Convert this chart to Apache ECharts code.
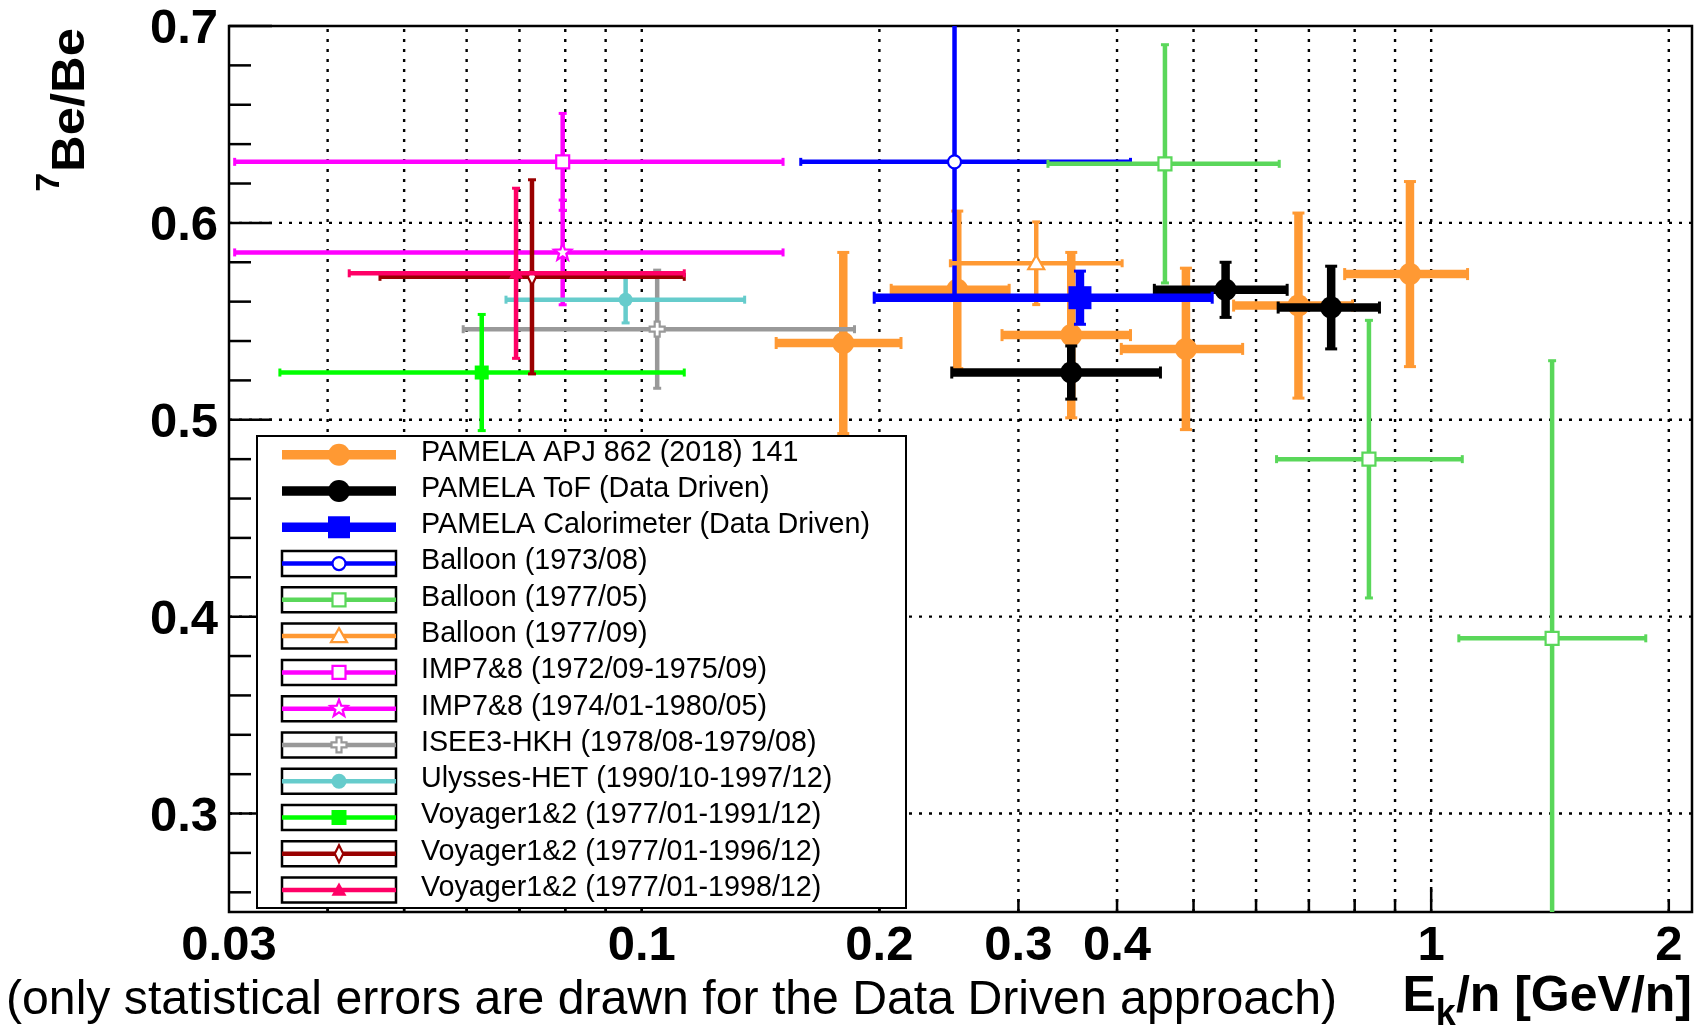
<!DOCTYPE html>
<html>
<head>
<meta charset="utf-8">
<title>7Be/Be</title>
<script src="https://cdn.jsdelivr.net/npm/echarts@6/dist/echarts.min.js"></script>
<style>
html, body { margin: 0; padding: 0; background: #fff; }
#main { width: 1703px; height: 1028px; }
</style>
</head>
<body>
<div id="main"></div>
<script>
// axis ticks and labels
var xTickLabels = [0.03, 0.1, 0.2, 0.3, 0.4, 1, 2];
var xGridValues = [0.04, 0.05, 0.06, 0.07, 0.08, 0.09, 0.1, 0.2, 0.3, 0.4, 0.5, 0.6, 0.7, 0.8, 0.9, 1, 2];
var xLongTicks = [0.1, 1];
var yTickLabels = [0.3, 0.4, 0.5, 0.6, 0.7];
var yMinorTicks = [0.26, 0.28, 0.32, 0.34, 0.36, 0.38, 0.42, 0.44, 0.46, 0.48,
                   0.52, 0.54, 0.56, 0.58, 0.62, 0.64, 0.66, 0.68];

// E = Ek/n (GeV/n), lo/hi = bin edges, r = 7Be/Be, err = error on r
var apjE   = [0.180, 0.251, 0.350, 0.489, 0.679, 0.940];
var apjLo  = [0.148, 0.207, 0.286, 0.405, 0.562, 0.777];
var apjHi  = [0.213, 0.292, 0.416, 0.577, 0.795, 1.112];
var apjR   = [0.539, 0.566, 0.543, 0.536, 0.558, 0.574];
var apjErr = [0.046, 0.040, 0.042, 0.041, 0.047, 0.047];

var tofE   = [0.350, 0.549, 0.747];
var tofLo  = [0.247, 0.446, 0.640];
var tofHi  = [0.454, 0.657, 0.860];
var tofR   = [0.524, 0.566, 0.557];
var tofErr = [0.0135, 0.014, 0.021];

var caloE   = [0.359];
var caloLo  = [0.197];
var caloHi  = [0.528];
var caloR   = [0.562];
var caloErr = [0.0135];

var b73E = [0.249], b73Lo = [0.159], b73Hi = [0.416], b73R = [0.631], b73Err = [0.070];

var b7705E   = [0.460, 0.834, 1.423];
var b7705Lo  = [0.327, 0.637, 1.084];
var b7705Hi  = [0.642, 1.095, 1.870];
var b7705R   = [0.630, 0.480, 0.389];
var b7705Err = [0.0605, 0.0705, 0.141];

var b7709E = [0.316], b7709Lo = [0.246], b7709Hi = [0.406], b7709R = [0.5795], b7709Err = [0.021];

var imp1E = [0.0794], imp1Lo = [0.0305], imp1Hi = [0.151], imp1R = [0.631], imp1Err = [0.0246];
var imp2E = [0.0794], imp2Lo = [0.0305], imp2Hi = [0.151], imp2R = [0.585], imp2Err = [0.0266];

var iseeE = [0.1046], iseeLo = [0.0594], iseeHi = [0.186], iseeR = [0.546], iseeErr = [0.030];
var ulyE  = [0.0954], ulyLo  = [0.0673], ulyHi  = [0.135], ulyR  = [0.561], ulyErr  = [0.0118];

var v91E = [0.0627], v91Lo = [0.0348], v91Hi = [0.1132], v91R = [0.524],  v91Err = [0.0295];
var v96E = [0.0726], v96Lo = [0.0466], v96Hi = [0.1132], v96R = [0.5726], v96Err = [0.0493];
var v98E = [0.0693], v98Lo = [0.0426], v98Hi = [0.1132], v98R = [0.5744], v98Err = [0.0432];

var X_MIN = 0.03, X_MAX = 2.14, Y_MIN = 0.25, Y_MAX = 0.7;
var FONT = '"Liberation Sans", Arial, Helvetica, sans-serif';

// styles of each data set
var apj   = {name: 'PAMELA APJ 862 (2018) 141', color: '#ff9933', thick: true, mark: 'dot', ms: 22, E: apjE, lo: apjLo, hi: apjHi, R: apjR, err: apjErr};
var tof   = {name: 'PAMELA ToF (Data Driven)', color: '#000000', thick: true, mark: 'dot', ms: 22, E: tofE, lo: tofLo, hi: tofHi, R: tofR, err: tofErr};
var calo  = {name: 'PAMELA Calorimeter (Data Driven)', color: '#0000ff', thick: true, mark: 'square', ms: 23, E: caloE, lo: caloLo, hi: caloHi, R: caloR, err: caloErr};
var b73   = {name: 'Balloon (1973/08)', color: '#0000ff', mark: 'ring', ms: 15, E: b73E, lo: b73Lo, hi: b73Hi, R: b73R, err: b73Err};
var b7705 = {name: 'Balloon (1977/05)', color: '#5ad75a', mark: 'openSquare', ms: 15, E: b7705E, lo: b7705Lo, hi: b7705Hi, R: b7705R, err: b7705Err};
var b7709 = {name: 'Balloon (1977/09)', color: '#ff9933', mark: 'openTriangle', ms: 16, E: b7709E, lo: b7709Lo, hi: b7709Hi, R: b7709R, err: b7709Err};
var imp1  = {name: 'IMP7&8 (1972/09-1975/09)', color: '#ff00ff', mark: 'openSquare', ms: 15, E: imp1E, lo: imp1Lo, hi: imp1Hi, R: imp1R, err: imp1Err};
var imp2  = {name: 'IMP7&8 (1974/01-1980/05)', color: '#ff00ff', mark: 'openStar', ms: 18, E: imp2E, lo: imp2Lo, hi: imp2Hi, R: imp2R, err: imp2Err};
var isee  = {name: 'ISEE3-HKH (1978/08-1979/08)', color: '#999999', mark: 'openCross', ms: 15, E: iseeE, lo: iseeLo, hi: iseeHi, R: iseeR, err: iseeErr};
var uly   = {name: 'Ulysses-HET (1990/10-1997/12)', color: '#66cccc', mark: 'dot', ms: 14, E: ulyE, lo: ulyLo, hi: ulyHi, R: ulyR, err: ulyErr};
var v91   = {name: 'Voyager1&2 (1977/01-1991/12)', color: '#00ff00', mark: 'square', ms: 14, E: v91E, lo: v91Lo, hi: v91Hi, R: v91R, err: v91Err};
var v96   = {name: 'Voyager1&2 (1977/01-1996/12)', color: '#990000', mark: 'openDiamond', ms: 17, E: v96E, lo: v96Lo, hi: v96Hi, R: v96R, err: v96Err};
var v98   = {name: 'Voyager1&2 (1977/01-1998/12)', color: '#ff0066', mark: 'triangle', ms: 14, E: v98E, lo: v98Lo, hi: v98Hi, R: v98R, err: v98Err};

var drawOrder   = [apj, b73, b7705, b7709, imp1, imp2, isee, uly, v91, v96, v98, tof, calo];
var legendOrder = [apj, tof, calo, b73, b7705, b7709, imp1, imp2, isee, uly, v91, v96, v98];

// marker shapes (ROOT style)
function marker(kind, cx, cy, s, color) {
    var h = s / 2;
    var open = {fill: '#fff', stroke: color, lineWidth: 2.2};
    if (kind === 'dot') return {type: 'circle', shape: {cx: cx, cy: cy, r: h}, style: {fill: color}};
    if (kind === 'ring') return {type: 'circle', shape: {cx: cx, cy: cy, r: h - 1}, style: open};
    if (kind === 'square') return {type: 'rect', shape: {x: cx - h, y: cy - h, width: s, height: s}, style: {fill: color}};
    if (kind === 'openSquare') return {type: 'rect', shape: {x: cx - h + 1, y: cy - h + 1, width: s - 2, height: s - 2}, style: open};
    var pts = [];
    if (kind === 'triangle' || kind === 'openTriangle') {
        pts = [[cx, cy - h], [cx + h, cy + h * 0.75], [cx - h, cy + h * 0.75]];
    } else if (kind === 'openStar') {
        for (var i = 0; i < 10; i++) {
            var r = i % 2 ? h * 0.42 : h;
            var a = -Math.PI / 2 + i * Math.PI / 5;
            pts.push([cx + r * Math.cos(a), cy + r * Math.sin(a)]);
        }
    } else if (kind === 'openCross') {
        var w = h / 3;
        pts = [[cx - w, cy - h], [cx + w, cy - h], [cx + w, cy - w], [cx + h, cy - w], [cx + h, cy + w], [cx + w, cy + w],
               [cx + w, cy + h], [cx - w, cy + h], [cx - w, cy + w], [cx - h, cy + w], [cx - h, cy - w], [cx - w, cy - w]];
    } else if (kind === 'openDiamond') {
        pts = [[cx, cy - h], [cx + h * 0.5, cy], [cx, cy + h], [cx - h * 0.5, cy]];
    }
    return {type: 'polygon', shape: {points: pts}, style: kind === 'triangle' ? {fill: color} : open};
}

function seg(x1, y1, x2, y2, color, lw, dash) {
    var st = {stroke: color, lineWidth: lw};
    if (dash) st.lineDash = dash;
    return {type: 'line', shape: {x1: x1, y1: y1, x2: x2, y2: y2}, style: st};
}

// error bars + marker for one data set
function errorBars(set) {
    var lw = set.thick ? 8.5 : 4.5;
    var capLen = set.thick ? 12 : 8;
    return function (params, api) {
        var E = api.value(0), R = api.value(1), lo = api.value(2), hi = api.value(3), dr = api.value(4);
        var rlo = Math.max(R - dr, Y_MIN), rhi = Math.min(R + dr, Y_MAX);
        var c = api.coord([E, R]);
        var pl = api.coord([lo, R]), ph = api.coord([hi, R]);
        var pu = api.coord([E, rhi]), pd = api.coord([E, rlo]);
        var kids = [
            seg(pl[0], c[1], ph[0], c[1], set.color, lw),
            seg(c[0], pu[1], c[0], pd[1], set.color, lw),
            seg(pl[0], c[1] - capLen / 2, pl[0], c[1] + capLen / 2, set.color, 3),
            seg(ph[0], c[1] - capLen / 2, ph[0], c[1] + capLen / 2, set.color, 3)
        ];
        if (R + dr <= Y_MAX) kids.push(seg(c[0] - capLen / 2, pu[1], c[0] + capLen / 2, pu[1], set.color, 3));
        if (R - dr >= Y_MIN) kids.push(seg(c[0] - capLen / 2, pd[1], c[0] + capLen / 2, pd[1], set.color, 3));
        kids.push(marker(set.mark, c[0], c[1], set.ms, set.color));
        return {type: 'group', children: kids};
    };
}

function textEl(text, x, y, size, weight, align) {
    return {
        type: 'text', x: x, y: y,
        style: {text: text, font: weight + ' ' + size + 'px ' + FONT, fill: '#000',
                textAlign: align, textVerticalAlign: 'middle', align: align, verticalAlign: 'middle'}
    };
}

var series = [];

// dotted grid and ticks on x
series.push({
    type: 'custom', name: 'xgrid', silent: true, z: 1, clip: false,
    data: xGridValues.map(function (v) { return [v, Y_MIN]; }),
    renderItem: function (params, api) {
        var v = api.value(0);
        var b = api.coord([v, Y_MIN]), t = api.coord([v, Y_MAX]);
        var len = xLongTicks.indexOf(v) >= 0 ? 25 : 13;
        return {type: 'group', children: [
            seg(b[0], b[1], b[0], t[1], '#000', 2.4, [3, 7]),
            seg(b[0], b[1], b[0], b[1] - len, '#000', 2.5)
        ]};
    }
});

// y gridlines, major and minor ticks
series.push({
    type: 'custom', name: 'ygrid', silent: true, z: 1, clip: false,
    data: yTickLabels.map(function (v) { return [X_MIN, v, 1]; }).concat(yMinorTicks.map(function (v) { return [X_MIN, v, 0]; })),
    renderItem: function (params, api) {
        var v = api.value(1), major = api.value(2) === 1;
        var l = api.coord([X_MIN, v]), r = api.coord([X_MAX, v]);
        var kids = [seg(l[0], l[1], l[0] + (major ? 43 : 22), l[1], '#000', 2.5)];
        if (major && v < Y_MAX) kids.push(seg(l[0], l[1], r[0], r[1], '#000', 2.4, [3, 7]));
        return {type: 'group', children: kids};
    }
});

// tick labels
series.push({
    type: 'custom', name: 'xlabels', silent: true, z: 3, clip: false,
    data: xTickLabels.map(function (v) { return [v, Y_MIN]; }),
    renderItem: function (params, api) {
        var v = api.value(0);
        var p = api.coord([v, Y_MIN]);
        return textEl(String(v), p[0], p[1] + 34, 49, 'bold', 'center');
    }
});
series.push({
    type: 'custom', name: 'ylabels', silent: true, z: 3, clip: false,
    data: yTickLabels.map(function (v) { return [X_MIN, v]; }),
    renderItem: function (params, api) {
        var v = api.value(1);
        var p = api.coord([X_MIN, v]);
        return textEl(v.toFixed(1), p[0] - 11, p[1] + 3.5, 49, 'bold', 'right');
    }
});

drawOrder.forEach(function (set, k) {
    series.push({
        type: 'custom', name: set.name, coordinateSystem: 'cartesian2d', silent: true,
        clip: true, z: 5 + k,
        data: set.E.map(function (e, i) { return [e, set.R[i], set.lo[i], set.hi[i], set.err[i]]; }),
        renderItem: errorBars(set)
    });
});

// legend box, drawn as graphic
var legendEls = [];
function addLegend(el, z2) { el.z = 100; el.z2 = z2; legendEls.push(el); }
addLegend({type: 'rect', shape: {x: 257, y: 436, width: 649, height: 472}, style: {fill: '#fff', stroke: '#000', lineWidth: 2}}, 0);
legendOrder.forEach(function (set, i) {
    var cy = 454.7 + i * 36.28;
    if (!set.thick) {
        addLegend({type: 'rect', shape: {x: 282, y: cy - 12.5, width: 114, height: 25}, style: {fill: '#fff', stroke: '#000', lineWidth: 2.5}}, 1);
    }
    addLegend(seg(282, cy, 396, cy, set.color, set.thick ? 9.5 : 4.5), 2);
    addLegend(marker(set.mark, 339, cy, set.thick ? 22 : Math.max(set.ms, 15), set.color), 3);
    addLegend(textEl(set.name, 421, cy - 2, 28.7, 'normal', 'left'), 4);
});

// axis titles
var mctx = document.createElement('canvas').getContext('2d');
mctx.font = 'bold 50px ' + FONT;
var wUnit = mctx.measureText('/n [GeV/n]').width;
mctx.font = 'bold 36px ' + FONT;
var wSub = mctx.measureText('k').width;
mctx.font = 'bold 47px ' + FONT;
var wBe = mctx.measureText('Be/Be').width * 1.08;

var titleEls = [
    textEl('/n [GeV/n]', 1692, 997.5, 50, 'bold', 'right'),
    textEl('k', 1692 - wUnit, 1015.5, 36, 'bold', 'right'),
    textEl('E', 1692 - wUnit - wSub, 997.5, 50, 'bold', 'right'),
    textEl('(only statistical errors are drawn for the Data Driven approach)', 6, 1000.5, 48.2, 'normal', 'left')
];
// rotated y title: 7Be/Be, read bottom to top, ending at the top of the frame
var yTitle = textEl('Be/Be', 71, 28, 47, 'bold', 'right');
yTitle.rotation = Math.PI / 2;
yTitle.scaleX = 1.08;
var ySup = textEl('7', 50, 28 + wBe + 1, 34, 'bold', 'right');
ySup.rotation = Math.PI / 2;
titleEls.push(yTitle, ySup);

var myChart = echarts.init(document.getElementById('main'));
var option = {
    animation: false,
    backgroundColor: '#fff',
    grid: {
        left: 229, right: 11, top: 26, bottom: 116,
        show: true, borderColor: '#000', borderWidth: 2.5, backgroundColor: 'transparent',
        outerBoundsMode: 'none'
    },
    xAxis: {
        type: 'log', logBase: 10, min: X_MIN, max: X_MAX,
        axisLine: {show: false}, axisTick: {show: false}, axisLabel: {show: false}, splitLine: {show: false}
    },
    yAxis: {
        type: 'value', min: Y_MIN, max: Y_MAX,
        axisLine: {show: false}, axisTick: {show: false}, axisLabel: {show: false}, splitLine: {show: false}
    },
    graphic: {elements: titleEls.concat(legendEls)},
    series: series
};
myChart.setOption(option);
</script>
</body>
</html>
